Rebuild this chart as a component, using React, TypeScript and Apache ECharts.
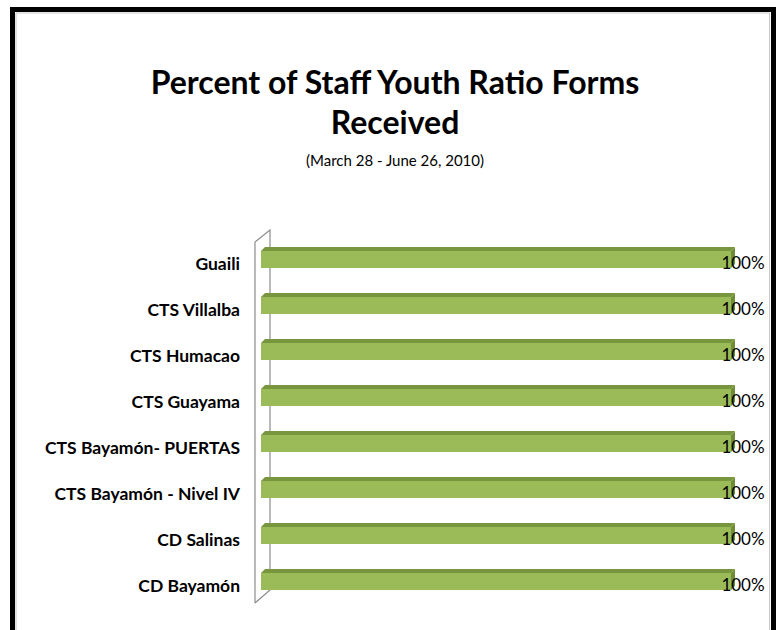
import React, { useEffect, useRef } from "react";
import * as echarts from "echarts";

const categories = [
  "Guaili",
  "CTS Villalba",
  "CTS Humacao",
  "CTS Guayama",
  "CTS Bayamón- PUERTAS",
  "CTS Bayamón - Nivel IV",
  "CD Salinas",
  "CD Bayamón",
];
const values = [100, 100, 100, 100, 100, 100, 100, 100];
const titleText = "Percent of Staff Youth Ratio Forms\nReceived";
const subText = "(March 28 - June 26, 2010)";

const GRID_LEFT = 261;
const GRID_RIGHT = 42;
const GRID_TOP = 235;
const GRID_HEIGHT = 368;
const FONT = "Lato, 'Open Sans', sans-serif";

export default function App() {
  const ref = useRef<HTMLDivElement>(null);
  useEffect(() => {
    if (!ref.current) return;
    const chart = echarts.init(ref.current, undefined, { renderer: "svg" });
    const wallL = GRID_LEFT - 6;
    const wallR = GRID_LEFT + 9;
    const wallTop = GRID_TOP;
    const wallBot = GRID_TOP + GRID_HEIGHT;
    chart.setOption({
      animation: false,
      backgroundColor: "#ffffff",
      title: {
        text: titleText,
        subtext: subText,
        left: 390,
        textAlign: "center",
        top: 56,
        itemGap: 11,
        textStyle: {
          fontFamily: FONT,
          fontSize: 32,
          fontWeight: "bold",
          color: "#000",
          lineHeight: 40,
        },
        subtextStyle: {
          fontFamily: FONT,
          fontSize: 15,
          color: "#000",
        },
      },
      graphic: [
        {
          type: "rect",
          z: -10,
          shape: { x: 12.5, y: 9.5, width: 761, height: 700 },
          style: { fill: "#fff", stroke: "#000", lineWidth: 5 },
        },
        {
          type: "rect",
          z: -9,
          shape: { x: 16, y: 13, width: 753.5, height: 700 },
          style: { fill: "none", stroke: "#c8c8c8", lineWidth: 1 },
        },
        {
          type: "polyline",
          z: -5,
          shape: {
            points: [
              [wallL, wallBot],
              [wallL, wallTop + 7],
              [wallR, wallTop - 5],
              [wallR, wallBot - 13],
              [wallL, wallBot],
            ],
          },
          style: { fill: "#fff", stroke: "#8c8c8c", lineWidth: 1.2 },
        },
      ],
      grid: {
        left: GRID_LEFT,
        right: GRID_RIGHT,
        top: GRID_TOP,
        height: GRID_HEIGHT,
        containLabel: false,
      },
      xAxis: {
        type: "value",
        min: 0,
        max: 100,
        show: false,
      },
      yAxis: {
        type: "category",
        data: categories,
        inverse: true,
        axisLine: { show: false },
        axisTick: { show: false },
        axisLabel: {
          margin: 21,
          fontFamily: FONT,
          fontSize: 17.5,
          fontWeight: "bold",
          color: "#000",
          verticalAlign: "top",
          lineHeight: 10,
        },
      },
      series: [
        {
          type: "custom",
          data: values.map((v, i) => [v, i]),
          encode: { x: 0, y: 1 },
          renderItem: (params: any, api: any) => {
            const v = api.value(0);
            const idx = api.value(1);
            const p0 = api.coord([0, idx]);
            const p1 = api.coord([v, idx]);
            const x0 = p0[0];
            const x1 = p1[0] - 4;
            const cy = p0[1];
            const depth = 4;
            const frontTop = cy - 7;
            const frontH = 17;
            return {
              type: "group",
              children: [
                {
                  type: "polygon",
                  shape: {
                    points: [
                      [x0, frontTop],
                      [x0 + depth, frontTop - depth],
                      [x1 + depth, frontTop - depth],
                      [x1, frontTop],
                    ],
                  },
                  style: { fill: "#78963e" },
                },
                {
                  type: "polygon",
                  shape: {
                    points: [
                      [x1, frontTop],
                      [x1 + depth, frontTop - depth],
                      [x1 + depth, frontTop + frontH - depth],
                      [x1, frontTop + frontH],
                    ],
                  },
                  style: { fill: "#6f8c36" },
                },
                {
                  type: "rect",
                  shape: { x: x0, y: frontTop, width: x1 - x0, height: frontH },
                  style: { fill: "#9bbb59" },
                },
                {
                  type: "text",
                  style: {
                    text: v + "%",
                    x: x1 + 12,
                    y: cy + 4,
                    align: "center",
                    verticalAlign: "middle",
                    fontFamily: FONT,
                    fontSize: 17,
                    fill: "#000",
                  },
                },
              ],
            };
          },
        },
      ],
    });
    return () => chart.dispose();
  }, []);
  return (
    <div
      ref={ref}
      style={{ position: "fixed", left: 0, top: 0, width: 777, height: 630 }}
    />
  );
}
